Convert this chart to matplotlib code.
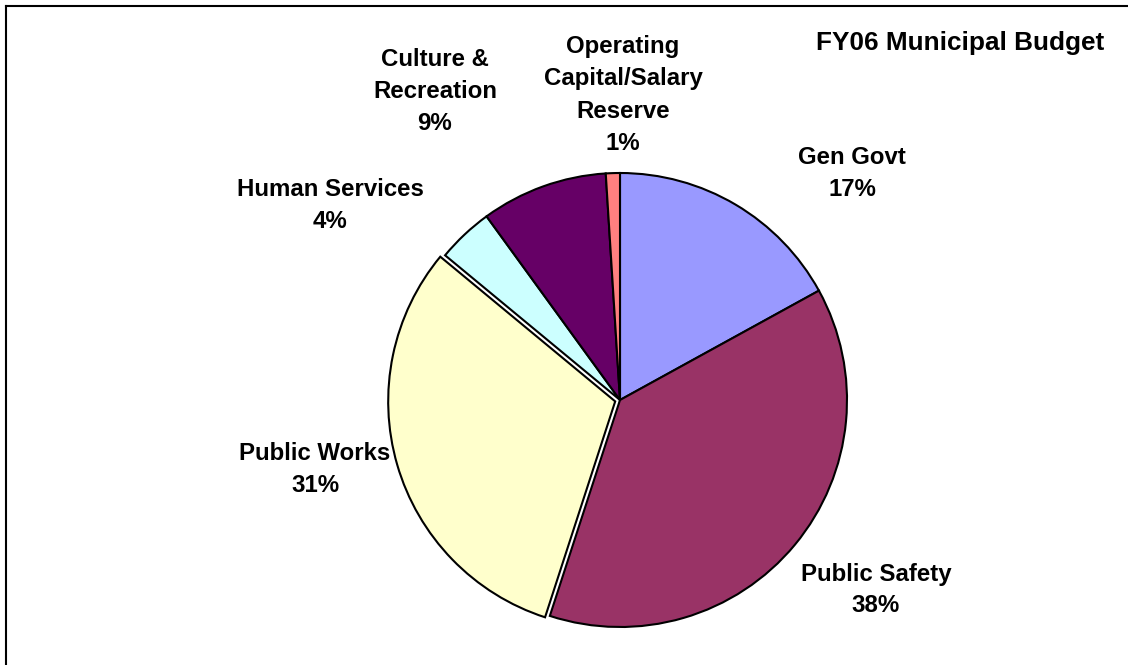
import matplotlib.pyplot as plt
from matplotlib.lines import Line2D

plt.rcParams["font.family"] = ["Liberation Sans", "DejaVu Sans"]

# FY06 budget shares, clockwise from 12 o'clock
categories = [
    "Gen Govt",
    "Public Safety",
    "Public Works",
    "Human Services",
    "Culture &\nRecreation",
    "Operating\nCapital/Salary\nReserve",
]
shares = [17, 38, 31, 4, 9, 1]
colors = ["#9999FF", "#993366", "#FFFFCC", "#CCFFFF", "#660066", "#FF8080"]

# label anchor points in pixel space (x right, y down)
label_pos = [
    (852, 173),
    (876, 590),
    (315, 470),
    (330, 205),
    (435, 92),
    (623, 95),
]

W, H = 1128, 665
fig = plt.figure(figsize=(W / 100, H / 100), dpi=100)
ax = fig.add_axes([0, 0, 1, 1])

# axes units are pixels, so the explode offset is in pixels too
ax.pie(
    shares,
    colors=colors,
    explode=[0, 0, 5, 0, 0, 0],
    startangle=90,
    counterclock=False,
    center=(620, H - 400),
    radius=227,
    frame=True,
    wedgeprops=dict(edgecolor="black", linewidth=1.5),
)
ax.set_xlim(0, W)
ax.set_ylim(0, H)
ax.set_aspect("equal")
ax.axis("off")

for name, val, (px, py) in zip(categories, shares, label_pos):
    ax.text(px, H - py, f"{name}\n{val}%", ha="center", va="center",
            fontsize=17.3, fontweight="bold", linespacing=1.5)

ax.text(960, H - 43, "FY06 Municipal Budget", ha="center", va="center",
        fontsize=18.8, fontweight="bold")

# chart area border (only top and left edges fall inside the image)
fig.add_artist(Line2D([6 / W, 6 / W], [0, 1 - 6 / H], color="black", lw=1.5,
                      transform=fig.transFigure))
fig.add_artist(Line2D([6 / W, 1], [1 - 6 / H, 1 - 6 / H], color="black", lw=1.5,
                      transform=fig.transFigure))

fig.savefig("out.png", dpi=100)
